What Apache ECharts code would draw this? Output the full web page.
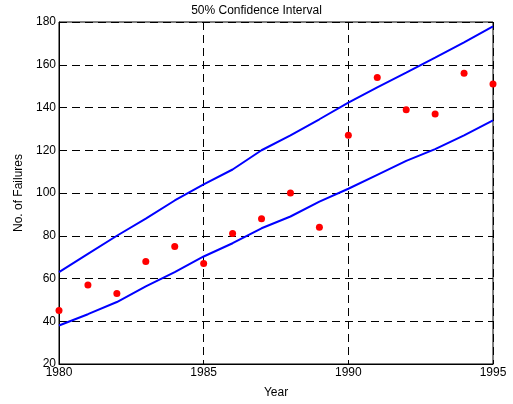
<!DOCTYPE html>
<html><head><meta charset="utf-8">
<script src="https://cdn.jsdelivr.net/npm/echarts@6/dist/echarts.min.js"></script>
<style>html,body{margin:0;padding:0;background:#fff}#c{width:513px;height:404px}</style>
</head><body><div id="c"></div>
<script>
var years = [1980,1981,1982,1983,1984,1985,1986,1987,1988,1989,1990,1991,1992,1993,1994,1995];
var failures = [45,57,53,68,75,67,81,88,100,84,127,154,139,137,156,151];
var upperBound = [63,71.5,80,88,96.5,104,111,120,127,134.5,142.3,149.4,156.3,163.3,170.5,178];
var lowerBound = [38,43.3,49,56.3,63,70.3,76.5,83.5,89,96,102,108.5,115,120.5,127,134];

function pairs(xs, ys){ return xs.map(function(x,i){return [x, ys[i]];}); }

var chart = echarts.init(document.getElementById('c'), null, {renderer:'canvas'});
var font = 'Liberation Sans, Arial, sans-serif';
chart.setOption({
  animation:false,
  backgroundColor:'#fff',
  title:{text:'50% Confidence Interval', left:'center', top:0,
    textStyle:{fontFamily:font, fontSize:12, fontWeight:'normal', color:'#000'}},
  grid:{left:59, right:20, top:22, bottom:40, show:true, borderColor:'#000', borderWidth:1, backgroundColor:'transparent'},
  xAxis:{type:'value', min:1980, max:1995, interval:5,
    name:'Year', nameLocation:'middle', nameGap:23,
    nameTextStyle:{fontFamily:font, fontSize:12, color:'#000'},
    axisLine:{show:true, lineStyle:{color:'#000', width:1}},
    axisTick:{show:false},
    axisLabel:{fontFamily:font, fontSize:12, color:'#000', margin:3, formatter:function(v){return String(v);}},
    splitLine:{show:true, lineStyle:{color:'#000', type:[8,5], width:1}}},
  yAxis:{type:'value', min:20, max:180, interval:20,
    name:'No. of Failures', nameLocation:'middle', nameGap:31, nameRotate:90,
    nameTextStyle:{fontFamily:font, fontSize:12, color:'#000'},
    axisLine:{show:true, lineStyle:{color:'#000', width:1}},
    axisTick:{show:false},
    axisLabel:{fontFamily:font, fontSize:12, color:'#000', margin:3},
    splitLine:{show:true, lineStyle:{color:'#000', type:[8,5], width:1}}},
  series:[
    {type:'line', data:pairs(years, upperBound), showSymbol:false, lineStyle:{color:'#0000ff', width:2}, z:3},
    {type:'line', data:pairs(years, lowerBound), showSymbol:false, lineStyle:{color:'#0000ff', width:2}, z:3},
    {type:'scatter', data:pairs(years, failures), symbol:'circle', symbolSize:7, itemStyle:{color:'#ff0000', opacity:1}, z:4}
  ]
});
</script></body></html>
